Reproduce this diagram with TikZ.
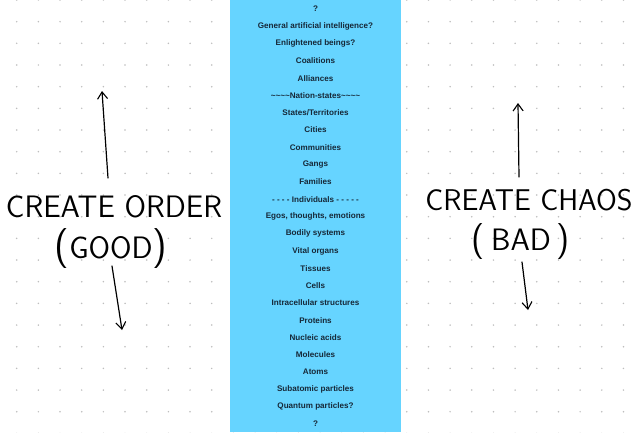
\documentclass[tikz,border=0pt]{standalone}
\usepackage{fontspec}
\setmainfont{Liberation Sans}
\usetikzlibrary{arrows.meta}
\definecolor{colblue}{RGB}{102,212,255}
\definecolor{dotgrey}{RGB}{190,190,190}
\definecolor{rowtext}{RGB}{22,40,56}
\tikzset{
  rowlabel/.style={font=\bfseries\fontsize{8.1}{9}\selectfont, text=rowtext, inner sep=0pt, anchor=center},
  hand/.style={font=\sffamily\fontsize{31}{31}\selectfont, text=black, inner sep=0pt, anchor=center},
  handarrow/.style={line width=1.2pt, black, line cap=round, -{Straight Barb[length=7pt,width=10pt,line width=1.1pt]}}
}
\begin{document}
\begin{tikzpicture}[x=1pt,y=-1pt]
\useasboundingbox (0,0) rectangle (640,432);
\fill[white] (0,0) rectangle (640,432);
% dot grid
\foreach \i in {0,...,29}{
  \foreach \j in {0,...,20}{
    \fill[dotgrey] ({16.7+21.67*\i},{21.67*\j}) circle (0.85);
  }
}
% central column
\fill[colblue] (230,0) rectangle (401,432);
\foreach \t [count=\k from 0] in {?,General artificial intelligence?,Enlightened beings?,Coalitions,Alliances,\textasciitilde\textasciitilde\textasciitilde\textasciitilde Nation-states\textasciitilde\textasciitilde\textasciitilde\textasciitilde,States/Territories,Cities,Communities,Gangs,Families,- - - - Individuals - - - - -,{Egos, thoughts, emotions},Bodily systems,Vital organs,Tissues,Cells,Intracellular structures,Proteins,Nucleic acids,Molecules,Atoms,Subatomic particles,Quantum particles?,?}{
  \node[rowlabel] (r\k) at (315.5,{9+17.29*\k}) {\t};
}
% left side
\node[hand] (order) at (114,207) {CREATE ORDER};
\node[hand] (good) at (111,249) {{\fontsize{40}{40}\selectfont(}GOOD{\fontsize{40}{40}\selectfont)}};
\coordinate (orderUpS) at (108,178);
\coordinate (orderUpE) at (102,91);
\coordinate (orderDnS) at (112,266);
\coordinate (orderDnE) at (122,330);
\draw[handarrow] (orderUpS) -- (orderUpE);
\draw[handarrow] (orderDnS) -- (orderDnE);
% right side
\node[hand, font=\sffamily\fontsize{30}{30}\selectfont] (chaos) at (529,200) {CREATE CHAOS};
\node[hand] (bad) at (521,242) {{\fontsize{36}{36}\selectfont(\,}BAD{\fontsize{36}{36}\selectfont\,)}};
\coordinate (chaosUpS) at (519,177);
\coordinate (chaosUpE) at (518,103);
\coordinate (chaosDnS) at (522,262);
\coordinate (chaosDnE) at (528,310);
\draw[handarrow] (chaosUpS) -- (chaosUpE);
\draw[handarrow] (chaosDnS) -- (chaosDnE);
\end{tikzpicture}
\end{document}
